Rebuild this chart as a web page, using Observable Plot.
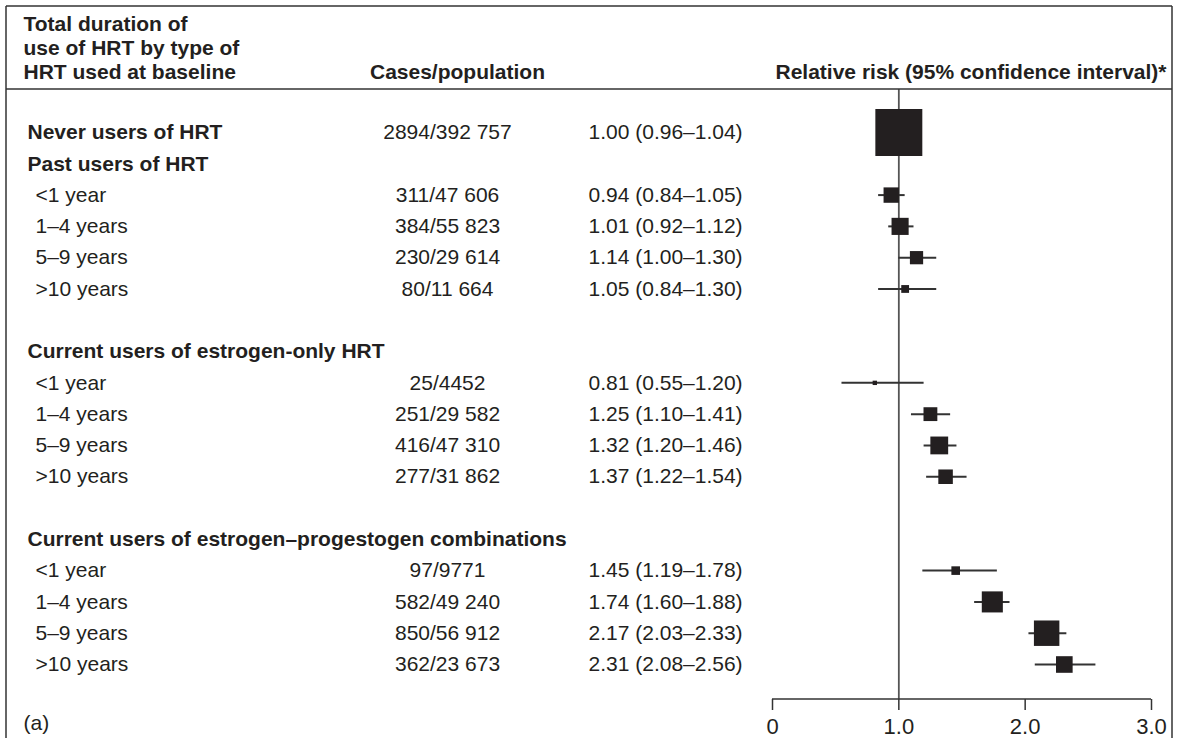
<!DOCTYPE html>
<html>
<head>
<meta charset="utf-8">
<script src="https://cdn.jsdelivr.net/npm/d3@7"></script>
<script src="https://cdn.jsdelivr.net/npm/@observablehq/plot@0.6"></script>
<style>
  html, body { margin: 0; padding: 0; background: #fff; }
  #chart { width: 1177px; height: 738px; overflow: hidden; }
</style>
</head>
<body>
<div id="chart"></div>
<script>
// ---- data ----
const labels = [
  "Never users of HRT", "Past users of HRT", "<1 year", "1–4 years", "5–9 years", ">10 years",
  "Current users of estrogen-only HRT", "<1 year", "1–4 years", "5–9 years", ">10 years",
  "Current users of estrogen–progestogen combinations", "<1 year", "1–4 years", "5–9 years", ">10 years"
];
const rowIndex = [0, 1, 2, 3, 4, 5, 7, 8, 9, 10, 11, 13, 14, 15, 16, 17];
const isGroup  = [true, true, false, false, false, false, true, false, false, false, false, true, false, false, false, false];
const cases      = [2894, null, 311, 384, 230, 80, null, 25, 251, 416, 277, null, 97, 582, 850, 362];
const population = [392757, null, 47606, 55823, 29614, 11664, null, 4452, 29582, 47310, 31862, null, 9771, 49240, 56912, 23673];
const rr   = [1.00, null, 0.94, 1.01, 1.14, 1.05, null, 0.81, 1.25, 1.32, 1.37, null, 1.45, 1.74, 2.17, 2.31];
const lo   = [0.96, null, 0.84, 0.92, 1.00, 0.84, null, 0.55, 1.10, 1.20, 1.22, null, 1.19, 1.60, 2.03, 2.08];
const hi   = [1.04, null, 1.05, 1.12, 1.30, 1.30, null, 1.20, 1.41, 1.46, 1.54, null, 1.78, 1.88, 2.33, 2.56];
const xTicks = [0, 1, 2, 3];
const headerLeft = "Total duration of\nuse of HRT by type of\nHRT used at baseline";
const headerMid = "Cases/population";
const headerRight = "Relative risk (95% confidence interval)*";
const panelLabel = "(a)";

// ---- table ----
const fmtPop = n => n >= 10000 ? d3.format(",")(n).replace(/,/g, " ") : String(n);
const rows = labels.map((label, i) => ({
  label, row: rowIndex[i], group: isGroup[i],
  cases: cases[i], pop: population[i], rr: rr[i], lo: lo[i], hi: hi[i],
  casesText: cases[i] == null ? null : `${cases[i]}/${fmtPop(population[i])}`,
  rrText: rr[i] == null ? null : `${rr[i].toFixed(2)} (${lo[i].toFixed(2)}–${hi[i].toFixed(2)})`
}));
const est = rows.filter(d => d.rr != null);
const groups = rows.filter(d => d.group);
const subs = rows.filter(d => !d.group);
const ink = "#231f20";
const font = "'Liberation Sans', Arial, Helvetica, sans-serif";

const plot = Plot.plot({
  width: 1177,
  height: 738,
  marginTop: 89,
  marginBottom: 39,
  marginLeft: 0,
  marginRight: 0,
  style: { fontFamily: font, fontSize: "21px", color: ink, background: "#fff", overflow: "visible" },
  x: { domain: [0, 3], range: [772, 1151] },
  y: { domain: [0, 17], range: [132, 664], axis: null },
  r: { type: "sqrt", domain: [0, 2894], range: [0, 26.5] },
  marks: [
    Plot.ruleX([1], { stroke: "#555", strokeWidth: 1.8 }),
    Plot.ruleY(est, { y: "row", x1: "lo", x2: "hi", stroke: "#333", strokeWidth: 2 }),
    Plot.dot(est, { x: "rr", y: "row", r: "cases", symbol: "square", fill: ink, stroke: null }),
    // label column
    Plot.text(groups, { y: "row", text: "label", frameAnchor: "left", textAnchor: "start", dx: 27, fontWeight: "bold", fill: ink }),
    Plot.text(subs, { y: "row", text: "label", frameAnchor: "left", textAnchor: "start", dx: 35, fill: ink }),
    // cases column
    Plot.text(est, { y: "row", text: "casesText", frameAnchor: "left", textAnchor: "middle", dx: 447, fill: ink }),
    // RR column
    Plot.text(est, { y: "row", text: "rrText", frameAnchor: "left", textAnchor: "start", dx: 588, fill: ink }),
    // headers
    Plot.text([headerLeft], { frameAnchor: "top-left", textAnchor: "start", lineAnchor: "bottom", lineHeight: 1.12, dx: 23, dy: -11, fontWeight: "bold", fill: ink }),
    Plot.text([headerMid], { frameAnchor: "top-left", textAnchor: "middle", lineAnchor: "bottom", dx: 457, dy: -11, fontWeight: "bold", fill: ink }),
    Plot.text([headerRight], { frameAnchor: "top-right", textAnchor: "end", lineAnchor: "bottom", dx: -11, dy: -11, fontWeight: "bold", fill: ink }),
    Plot.text([panelLabel], { frameAnchor: "bottom-left", textAnchor: "start", lineAnchor: "middle", dx: 23, dy: 24, fill: ink }),
    Plot.axisX({ anchor: "bottom", ticks: xTicks, tickFormat: d => d === 0 ? "0" : d.toFixed(1), tickSize: 11, tickPadding: 8, label: null, fontSize: 22, stroke: "#333", strokeWidth: 1.5 })
  ]
});

document.getElementById("chart").appendChild(plot);

const svg = d3.select(plot);
const xs = plot.scale("x");
const x0 = xs.apply(0), x3 = xs.apply(3);
const deco = svg.append("g").attr("stroke", "#333").attr("stroke-width", 1.5).attr("fill", "none");
// axis baseline
deco.append("line").attr("x1", x0).attr("x2", x3).attr("y1", 699).attr("y2", 699);
// border
deco.append("line").attr("x1", 6).attr("x2", 1172).attr("y1", 6).attr("y2", 6);
deco.append("line").attr("x1", 6).attr("x2", 1172).attr("y1", 89).attr("y2", 89);
deco.append("line").attr("x1", 6).attr("x2", 6).attr("y1", 6).attr("y2", 760);
deco.append("line").attr("x1", 1172).attr("x2", 1172).attr("y1", 6).attr("y2", 760);
</script>
</body>
</html>
